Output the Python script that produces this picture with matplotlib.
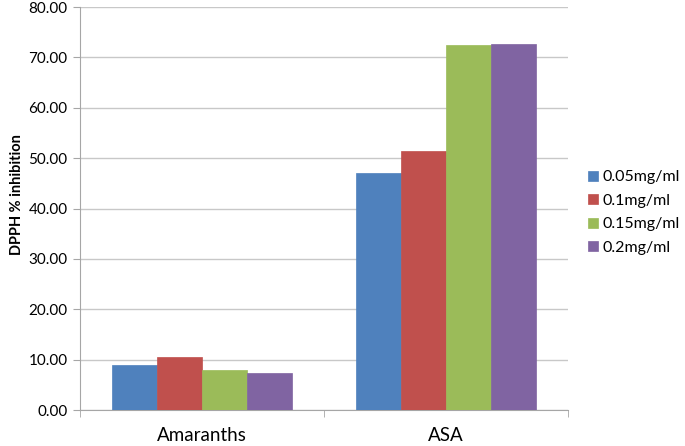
import numpy as np
import matplotlib.pyplot as plt

plt.rcParams['font.family'] = ['Lato', 'DejaVu Sans']

categories = ['Amaranths', 'ASA']
series = ['0.05mg/ml', '0.1mg/ml', '0.15mg/ml', '0.2mg/ml']
values = [
    [8.9, 47.0],    # 0.05mg/ml
    [10.45, 51.4],  # 0.1mg/ml
    [7.95, 72.4],   # 0.15mg/ml
    [7.3, 72.6],    # 0.2mg/ml
]
colors = ['#4F81BD', '#C0504D', '#9BBB59', '#8064A2']
yticks = np.arange(0, 81, 10)

fig = plt.figure(figsize=(6.85, 4.46), dpi=100)
ax = fig.add_axes([0.1168, 0.0807, 0.712, 0.9033])

x = np.arange(len(categories))
width = 0.74 / len(series)
for k, (name, vals) in enumerate(zip(series, values)):
    offs = (k - (len(series) - 1) / 2) * width
    ax.bar(x + offs, vals, width, color=colors[k], label=name, zorder=3,
           edgecolor=colors[k], linewidth=0.5)

ax.set_xlim(-0.5, len(categories) - 0.5)
ax.set_ylim(0, 80)
ax.set_yticks(yticks)
ax.set_yticklabels([f'{v:.2f}' for v in yticks], fontsize=11)
ax.set_xticks(x)
ax.set_xticklabels(categories, fontsize=13.5)
ax.set_xticks(np.arange(-0.5, len(categories)), minor=True)
ax.tick_params(axis='x', which='major', length=0, pad=12)
ax.tick_params(axis='x', which='minor', length=5, color='#A6A6A6')
ax.tick_params(axis='y', length=5, color='#A6A6A6', pad=4)
ax.grid(axis='y', color='#C8C8C8', linewidth=1, zorder=0)

for s in ['top', 'right']:
    ax.spines[s].set_visible(False)
for s in ['left', 'bottom']:
    ax.spines[s].set_color('#A6A6A6')

ax.set_ylabel('DPPH % inhibition', fontsize=10.5, fontweight='bold')
ax.yaxis.set_label_coords(-0.115, 0.535)

ax.legend(loc='center left', bbox_to_anchor=(1.029, 0.49), frameon=False,
          borderaxespad=0, fontsize=11.5, handlelength=0.6, handleheight=0.6,
          handletextpad=0.3, labelspacing=0.6)

fig.savefig('out.png', dpi=100)
